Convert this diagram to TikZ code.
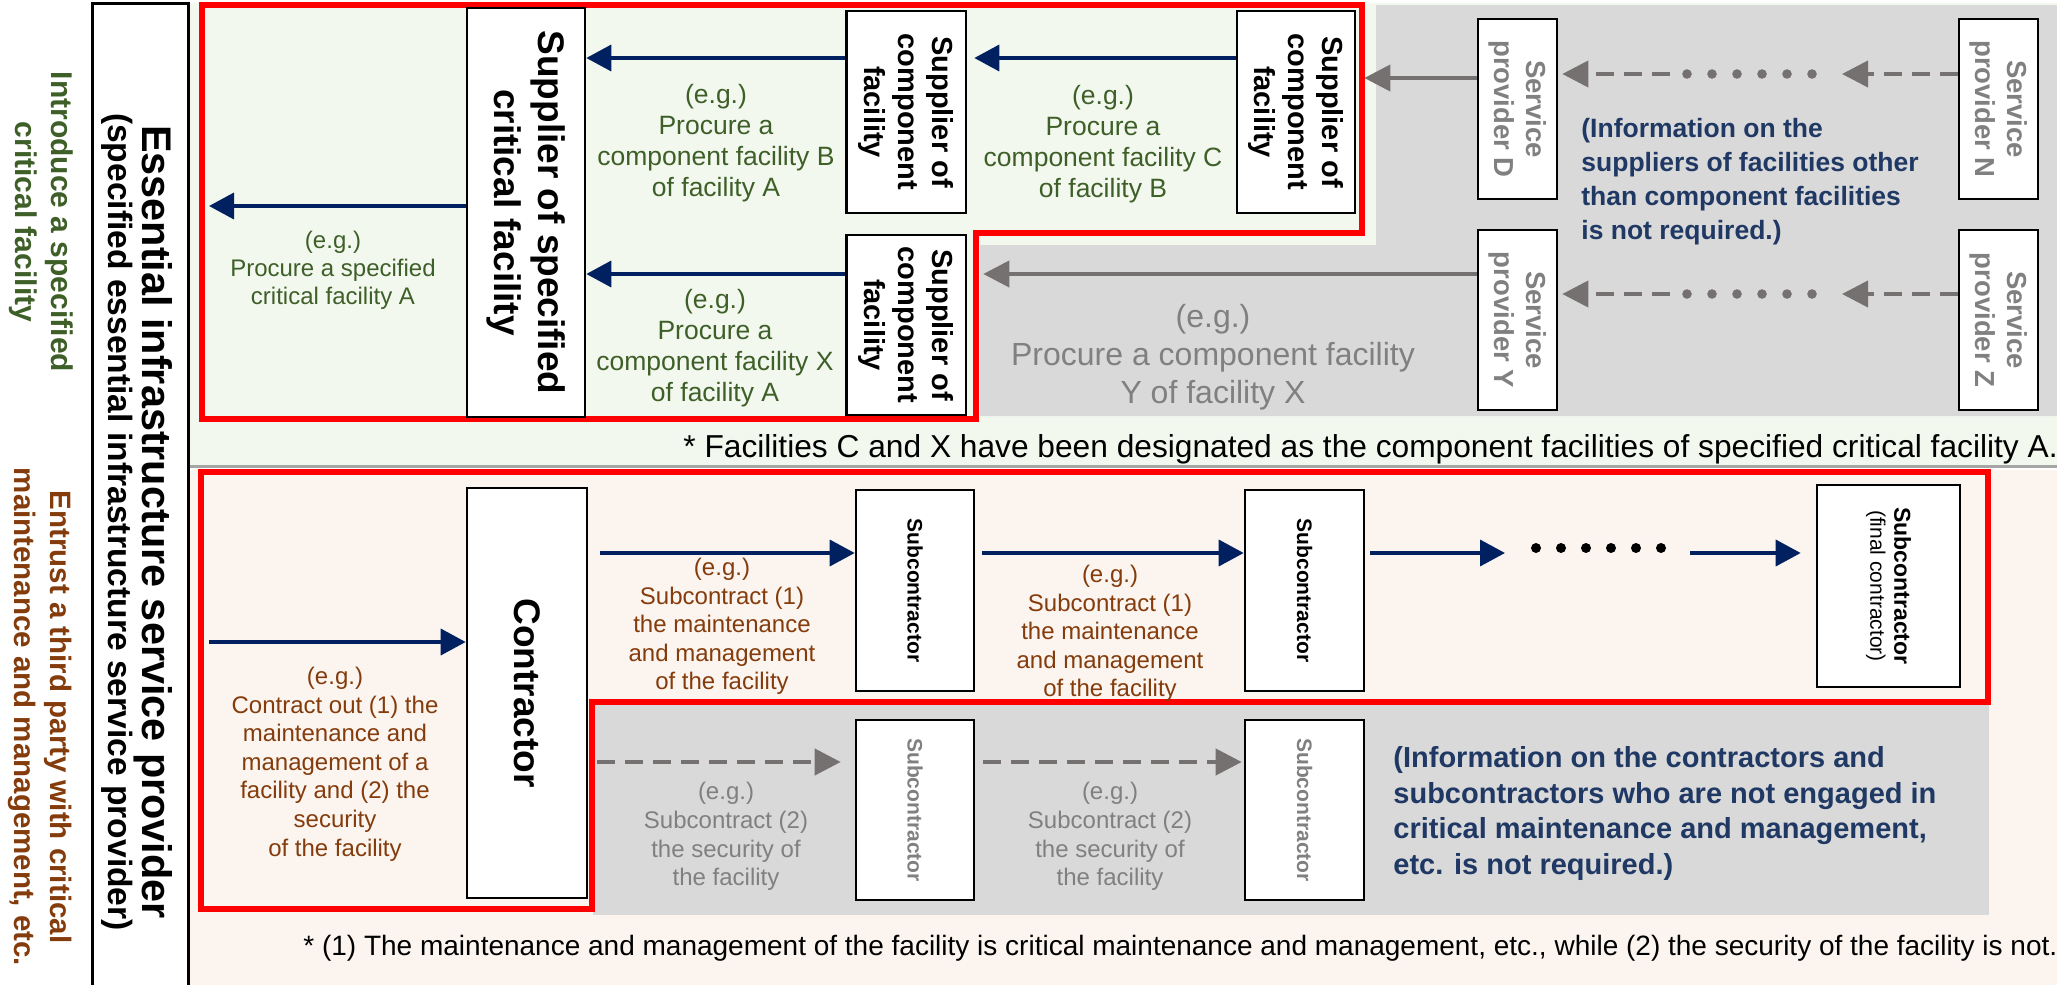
\documentclass[tikz,border=0pt]{standalone}
\usepackage{fontspec}
\setmainfont{Liberation Sans}
\usetikzlibrary{arrows.meta}
\definecolor{navyc}{RGB}{0,32,96}
\definecolor{garc}{RGB}{118,113,113}
\definecolor{gtxt}{RGB}{128,128,128}
\definecolor{greent}{RGB}{62,95,40}
\definecolor{brownt}{RGB}{132,60,12}
\definecolor{infob}{RGB}{31,56,100}
\definecolor{graybg}{RGB}{217,217,217}
\definecolor{greenbg}{RGB}{243,248,239}
\definecolor{peachbg}{RGB}{251,244,239}
\definecolor{sepc}{RGB}{166,166,166}
\begin{document}
\begin{tikzpicture}[x=0.5pt,y=-0.5pt]
\tikzset{
 box/.style={draw=black, line width=1.3pt, fill=white, inner sep=0pt},
 nav/.style={draw=navyc, line width=1.8pt, -{Triangle[length=12.5pt,width=13pt]}},
 gar/.style={draw=garc, line width=2pt, -{Triangle[length=13pt,width=13pt]}},
 gdash/.style={gar, dash pattern=on 9pt off 5pt},
 redb/.style={draw=red, line width=2.7pt, line join=miter},
 vt/.style={rotate=-90, align=center, inner sep=0pt},
 supf/.style={vt, font=\fontsize{14.5}{17}\selectfont\bfseries},
 bigf/.style={vt, font=\fontsize{18.5}{22}\selectfont\bfseries},
 servf/.style={vt, text=gtxt, font=\fontsize{13.75}{16}\selectfont\bfseries},
 subf/.style={vt, font=\fontsize{10.5}{12.5}\selectfont\bfseries},
 egg/.style={align=center, inner sep=0pt, text=greent, font=\fontsize{13.25}{15.5}\selectfont},
 egb/.style={align=center, inner sep=0pt, text=brownt, font=\fontsize{12}{14.3}\selectfont},
 egy/.style={align=center, inner sep=0pt, text=gtxt, font=\fontsize{12}{14.3}\selectfont},
 infof/.style={align=left, inner sep=0pt, text=infob, font=\bfseries},
 gdot/.style={fill=garc},
}
\useasboundingbox (0,0) rectangle (2057,985);
\fill[white] (0,0) rectangle (2057,985);
% backgrounds
\fill[greenbg] (188,3) rectangle (2057,465);
\fill[peachbg] (188,470) rectangle (2057,985);
\fill[graybg] (1376,5) -- (2057,5) -- (2057,416) -- (980,416) -- (980,245) -- (1376,245) -- cycle;
\fill[graybg] (593,704) rectangle (1989,915);
\draw[sepc, line width=1.5pt] (188,466) -- (2057,466);
% red frames
\draw[redb] (202,5) -- (1362,5) -- (1362,233) -- (976,233) -- (976,419) -- (202,419) -- cycle;
\draw[redb] (201,472) -- (1988,472) -- (1988,702) -- (592,702) -- (592,909) -- (201,909) -- cycle;
% left label box
\draw[black, line width=1.5pt] (92,995) -- (92,3) -- (188,3) -- (188,995);
\node[vt] (esp) at (137,522) {\fontsize{20.7}{20}\selectfont\bfseries Essential infrastructure service provider\\[-0.5pt]\fontsize{16.8}{20}\selectfont\bfseries (specified essential infrastructure service provider)};
\node[vt, text=greent, font=\fontsize{15}{18}\selectfont\bfseries] (lg) at (41,222) {Introduce a specified\\critical facility};
\node[vt, text=brownt, font=\fontsize{14.75}{18}\selectfont\bfseries] (lb) at (40,717) {Entrust a third party with critical\\maintenance and management, etc.};
% helper rows
\coordinate (r58) at (0,58);
\coordinate (r206) at (0,206);
\coordinate (r274) at (0,274);
\coordinate (r78) at (0,78);
\coordinate (r74) at (0,74);
\coordinate (r294) at (0,294);
\coordinate (r553) at (0,553);
\coordinate (r642) at (0,642);
\coordinate (r762) at (0,762);
% top boxes
\node[box, minimum width=59pt, minimum height=204.5pt] (spec) at (526,212.5) {};
\node[bigf] (spect) at (spec.center) {Supplier of specified\\critical facility};
\node[box, minimum width=59.75pt, minimum height=101pt] (B) at (906.25,112) {};
\node[supf] (Bt) at (B.center) {Supplier of\\component\\facility};
\node[box, minimum width=59pt, minimum height=101pt] (C) at (1296,112) {};
\node[supf] (Ct) at (C.center) {Supplier of\\component\\facility};
\node[box, minimum width=59.75pt, minimum height=90pt] (X) at (906.25,325) {};
\node[supf] (Xt) at (X.center) {Supplier of\\component\\facility};
\node[box, minimum width=39.5pt, minimum height=90pt] (D) at (1517.5,109) {};
\node[servf] (Dt) at (D.center) {Service\\provider D};
\node[box, minimum width=39.5pt, minimum height=90pt] (N) at (1998.5,109) {};
\node[servf] (Nt) at (N.center) {Service\\provider N};
\node[box, minimum width=39.5pt, minimum height=90pt] (Y) at (1517.5,320) {};
\node[servf] (Yt) at (Y.center) {Service\\provider Y};
\node[box, minimum width=39.5pt, minimum height=90pt] (Z) at (1998.5,320) {};
\node[servf] (Zt) at (Z.center) {Service\\provider Z};
% top texts
\node[egg, font=\fontsize{12}{14}\selectfont] (tA) at (333,270) {(e.g.)\\Procure a specified\\critical facility A};
\node[egg] (tB) at (716,143) {(e.g.)\\Procure a\\component facility B\\of facility A};
\node[egg] (tC) at (1103,144) {(e.g.)\\Procure a\\component facility C\\of facility B};
\node[egg] (tX) at (715,348) {(e.g.)\\Procure a\\component facility X\\of facility A};
\node[align=center, inner sep=0pt, text=gtxt, font=\fontsize{16}{19}\selectfont] (tY) at (1213,357) {(e.g.)\\Procure a component facility\\Y of facility X};
\node[infof, anchor=west, font=\fontsize{13.25}{17}\selectfont\bfseries] (info1) at (1581,182) {(Information on the\\suppliers of facilities other\\than component facilities\\is not required.)};
\node[anchor=base west, inner sep=0pt, font=\fontsize{15.85}{18}\selectfont] (fn1) at (683,457) {* Facilities C and X have been designated as the component facilities of specified critical facility A.};
% top arrows
\coordinate (aL) at (209,206);
\draw[nav] (spec.west |- r206) -- (aL);
\draw[nav] (B.west |- r58) -- (spec.east |- r58);
\draw[nav, shorten >=3.5pt] (C.west |- r58) -- (B.east |- r58);
\draw[nav] (X.west |- r274) -- (spec.east |- r274);
\draw[gar, shorten >=4pt] (D.west |- r78) -- (C.east |- r78);
\draw[gar, shorten >=8pt] (Y.west |- r274) -- (X.east |- r274);
\coordinate (dN) at (1842,74);
\coordinate (dNs) at (1670,74);
\draw[gdash] (N.west |- r74) -- (dN);
\draw[gdash, shorten >=2pt] (dNs) -- (D.east |- r74);
\foreach \xx in {1687,1712,1737,1762,1787,1812} \fill[gdot] (\xx,74) circle (2.4pt);
\coordinate (dZ) at (1842,294);
\coordinate (dZs) at (1670,294);
\draw[gdash] (Z.west |- r294) -- (dZ);
\draw[gdash, shorten >=2pt] (dZs) -- (Y.east |- r294);
\foreach \xx in {1687,1712,1737,1762,1787,1812} \fill[gdot] (\xx,294) circle (2.4pt);
% bottom boxes
\node[box, minimum width=60pt, minimum height=205pt] (K) at (527,693) {};
\node[bigf] (Kt) at (K.center) {Contractor};
\node[box, minimum width=59pt, minimum height=100.5pt] (S1) at (915,590.5) {};
\node[subf] (S1t) at (S1.center) {Subcontractor};
\node[box, minimum width=59.5pt, minimum height=100.5pt] (S2) at (1304.5,590.5) {};
\node[subf] (S2t) at (S2.center) {Subcontractor};
\node[box, minimum width=71.5pt, minimum height=101pt] (SF) at (1888.5,586) {};
\node[vt] (SFt) at (SF.center) {\fontsize{11.5}{14}\selectfont\bfseries Subcontractor\\\fontsize{10.5}{13}\selectfont (final contractor)};
\node[box, minimum width=59pt, minimum height=90pt] (S3) at (915,810) {};
\node[subf, text=gtxt] (S3t) at (S3.center) {Subcontractor};
\node[box, minimum width=59.5pt, minimum height=90pt] (S4) at (1304.5,810) {};
\node[subf, text=gtxt] (S4t) at (S4.center) {Subcontractor};
% bottom texts
\node[egb] (tK) at (335,764) {(e.g.)\\Contract out (1) the\\maintenance and\\management of a\\facility and (2) the\\security\\of the facility};
\node[egb] (t1) at (722,626.5) {(e.g.)\\Subcontract (1)\\the maintenance\\and management\\of the facility};
\node[egb] (t2) at (1110,633.5) {(e.g.)\\Subcontract (1)\\the maintenance\\and management\\of the facility};
\node[egy] (t3) at (726,836.5) {(e.g.)\\Subcontract (2)\\the security of\\the facility};
\node[egy] (t4) at (1110,836.5) {(e.g.)\\Subcontract (2)\\the security of\\the facility};
\node[infof, anchor=west, font=\fontsize{14.5}{17.75}\selectfont\bfseries] (info2) at (1393,813.5) {(Information on the contractors and\\subcontractors who are not engaged in\\critical maintenance and management,\\etc. is not required.)};
\node[anchor=base west, inner sep=0pt, font=\fontsize{14}{16}\selectfont] (fn2) at (303,955) {* (1) The maintenance and management of the facility is critical maintenance and management, etc., while (2) the security of the facility is not.};
% bottom arrows
\coordinate (aE) at (209,642);
\draw[nav] (aE) -- (K.west |- r642);
\draw[nav, shorten <=6pt] (K.east |- r553) -- (S1.west |- r553);
\draw[nav, shorten <=3.5pt] (S1.east |- r553) -- (S2.west |- r553);
\coordinate (aD1) at (1505,553);
\draw[nav, shorten <=2.5pt] (S2.east |- r553) -- (aD1);
\foreach \xx in {1536,1561,1586,1611,1636,1661} \fill[black] (\xx,548) circle (2.5pt);
\coordinate (aD2) at (1690,553);
\draw[nav, shorten >=7.5pt] (aD2) -- (SF.west |- r553);
\draw[gdash, shorten <=4.5pt, shorten >=7pt] (K.east |- r762) -- (S3.west |- r762);
\draw[gdash, shorten <=4pt, shorten >=1pt] (S3.east |- r762) -- (S4.west |- r762);
\end{tikzpicture}
\end{document}
